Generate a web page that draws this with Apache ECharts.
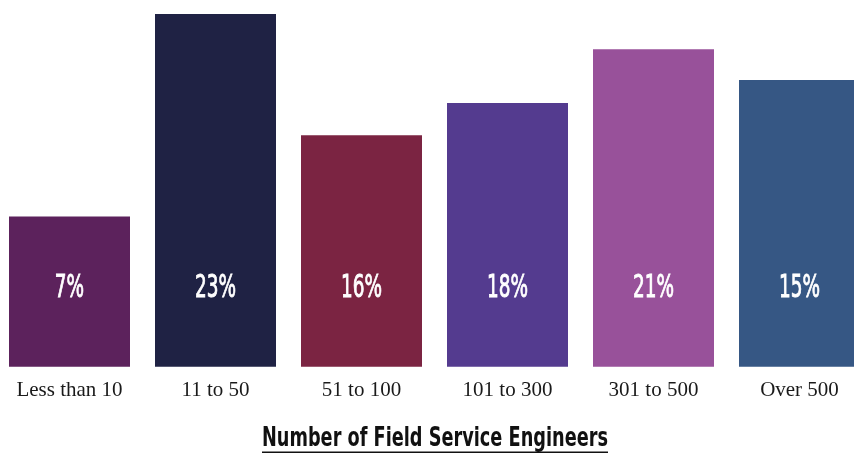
<!DOCTYPE html>
<html>
<head>
<meta charset="utf-8">
<script src="https://cdn.jsdelivr.net/npm/echarts@6/dist/echarts.min.js"></script>
<style>
html,body{margin:0;padding:0;background:#fff;}
#chart{width:854px;height:454px;}
</style>
</head>
<body>
<div id="chart"></div>
<script>
// Data
var categories = ['Less than 10', '11 to 50', '51 to 100', '101 to 300', '301 to 500', 'Over 500'];
var shares = [7, 23, 16, 18, 21, 15];            // printed percentage labels
var barHeights = [9.8, 23, 15.1, 17.2, 20.7, 18.7]; // drawn bar heights (as pictured)
var barColors = ['#5c225c', '#1f2244', '#7b2442', '#543b8f', '#98519a', '#365784'];
var axisTitle = 'Number of Field Service Engineers';

var chart = echarts.init(document.getElementById('chart'), null, {renderer: 'canvas'});

var narrow = '"Liberation Sans Narrow", "Arial Narrow", "DejaVu Sans Condensed", "Roboto Condensed", sans-serif';
var titleFont = 'bold 27px ' + narrow;
var labelFont = '32px ' + narrow;
var cv = document.createElement('canvas').getContext('2d');
cv.font = titleFont;
var tw = cv.measureText(axisTitle).width;
var titleScale = 346 / tw;
cv.font = labelFont;
var lw = cv.measureText('23%').width;
var labelScale = 41 / lw;
var tx = 435;

chart.setOption({
  animation: false,
  backgroundColor: '#ffffff',
  grid: {left: -3.5, right: -18.5, top: 14, bottom: 87.3, containLabel: false, outerBoundsMode: 'none'},
  xAxis: {
    type: 'category',
    data: categories,
    axisLine: {show: false},
    axisTick: {show: false},
    axisLabel: {
      margin: 13,
      color: '#1a1a1a',
      fontFamily: 'Liberation Serif',
      fontSize: 21
    }
  },
  yAxis: {
    type: 'value',
    min: 0,
    max: 23,
    show: false,
    splitLine: {show: false}
  },
  series: [
    {
      type: 'bar',
      data: barHeights.map(function (v, i) {
        return {value: v, itemStyle: {color: barColors[i]}};
      }),
      barWidth: 121,
      barGap: '-100%'
    },
    {
      type: 'custom',
      z: 5,
      data: shares.map(function (s, i) { return [i, s]; }),
      renderItem: function (params, api) {
        var p = api.coord([api.value(0), 0]);
        return {
          type: 'text',
          x: p[0],
          y: p[1] - 78,
          scaleX: labelScale,
          style: {
            text: api.value(1) + '%',
            font: labelFont,
            fill: '#ffffff',
            stroke: '#ffffff',
            lineWidth: 0.9,
            textAlign: 'center',
            textVerticalAlign: 'middle'
          }
        };
      }
    }
  ],
  graphic: [
    {
      type: 'text',
      x: tx,
      y: 439,
      scaleX: titleScale,
      style: {
        text: axisTitle,
        fill: '#111111',
        font: titleFont,
        textAlign: 'center',
        textVerticalAlign: 'middle'
      }
    },
    {
      type: 'rect',
      shape: {x: tx - 173, y: 451.5, width: 346, height: 1.6},
      style: {fill: '#111111'}
    }
  ]
});
</script>
</body>
</html>
